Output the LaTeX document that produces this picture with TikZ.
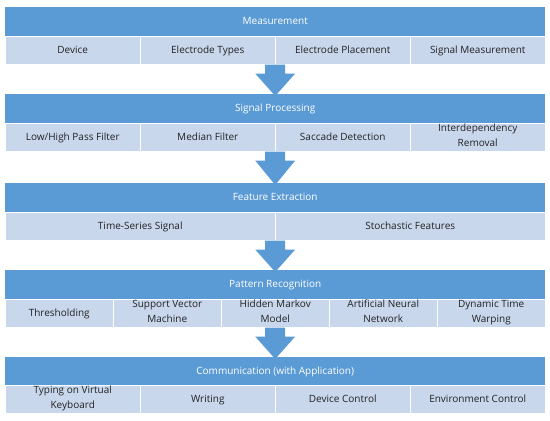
\documentclass[tikz,border=0pt]{standalone}
\usepackage{fontspec}
\setmainfont{Open Sans}
\usetikzlibrary{calc}
\definecolor{hdrblue}{HTML}{5B9BD5}
\definecolor{cellblue}{HTML}{C9D7EC}
\definecolor{txtgray}{HTML}{222222}
\begin{document}
\begin{tikzpicture}[x=1pt,y=-1pt,
  hdrbox/.style={fill=hdrblue, draw=none, text=white, minimum height=29pt, minimum width=540pt,
    inner sep=0pt, anchor=north west, font=\fontsize{10}{12}\selectfont,
    execute at begin node=\strut, execute at end node=\strut},
  cellbox/.style={fill=cellblue, draw=white, line width=0.5pt, text=txtgray, minimum height=28pt,
    inner sep=0pt, anchor=north west, align=center, font=\fontsize{10}{15}\selectfont,
    execute at begin node=\strut, execute at end node=\strut},
  blockarrow/.style={fill=hdrblue, draw=none}
]
\useasboundingbox (0,0) rectangle (550,421);
\fill[white] (0,0) rectangle (550,421);

% band 1
\node[hdrbox] (h1) at (5,7) {Measurement};
\foreach \t [count=\i] in {Device,Electrode Types,Electrode Placement,Signal Measurement}
  \node[cellbox, minimum width=135pt] (c1\i) at ({5+135*(\i-1)},36) {\t};
% band 2
\node[hdrbox] (h2) at (5,94) {Signal Processing};
\foreach \t [count=\i] in {Low/High Pass Filter,Median Filter,Saccade Detection,{Interdependency\\Removal}}
  \node[cellbox, minimum width=135pt] (c2\i) at ({5+135*(\i-1)},123) {\t};
% band 3
\node[hdrbox] (h3) at (5,183) {Feature Extraction};
\foreach \t [count=\i] in {Time-Series Signal,Stochastic Features}
  \node[cellbox, minimum width=270pt] (c3\i) at ({5+270*(\i-1)},212) {\t};
% band 4
\node[hdrbox] (h4) at (5,270) {Pattern Recognition};
\foreach \t [count=\i] in {Thresholding,{Support Vector\\Machine},{Hidden Markov\\Model},{Artificial Neural\\Network},{Dynamic Time\\Warping}}
  \node[cellbox, minimum width=108pt] (c4\i) at ({5+108*(\i-1)},299) {\t};
% band 5
\node[hdrbox] (h5) at (5,357) {Communication (with Application)};
\foreach \t [count=\i] in {{Typing on Virtual\\Keyboard},Writing,Device Control,Environment Control}
  \node[cellbox, minimum width=135pt] (c5\i) at ({5+135*(\i-1)},385) {\t};

% block arrows between bands
\foreach \a/\b in {c1/h2,c2/h3,c3/h4,c4/h5}{
  \coordinate (top) at (\a1.south -| h1.south);
  \fill[blockarrow] ($(top)+(-10,0)$) -- ($(top)+(10,0)$) -- ($(top)+(10,9)$) -- ($(top)+(20,9)$)
    -- ($(\b.north)+(0,2)$) -- ($(top)+(-20,9)$) -- ($(top)+(-10,9)$) -- cycle;
}
\end{tikzpicture}
\end{document}
